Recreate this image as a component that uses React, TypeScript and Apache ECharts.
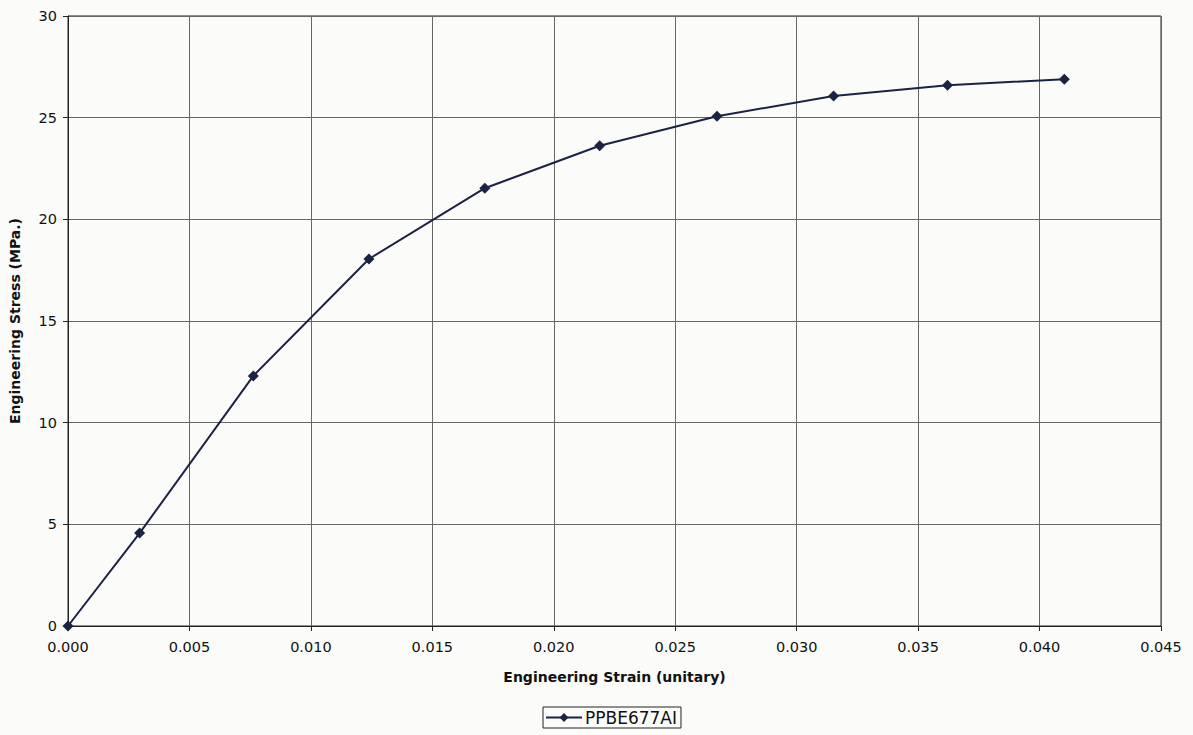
import React, { useEffect, useRef } from "react";
import * as echarts from "echarts";

const seriesName = "PPBE677AI";
const strain = [0, 0.00295, 0.00763, 0.01239, 0.01716, 0.02189, 0.02672, 0.03152, 0.03621, 0.04102];
const stress = [0, 4.57, 12.3, 18.05, 21.53, 23.62, 25.07, 26.07, 26.6, 26.89];
const xTitle = "Engineering Strain (unitary)";
const yTitle = "Engineering Stress (MPa.)";

export default function App() {
  const ref = useRef<HTMLDivElement>(null);
  useEffect(() => {
    document.body.style.margin = "0";
    const chart = echarts.init(ref.current!, null, { renderer: "svg" });
    const font = "DejaVu Sans, Liberation Sans, sans-serif";
    chart.setOption({
      animation: false,
      backgroundColor: "#fbfbf9",
      textStyle: { fontFamily: font },
      grid: { left: 64, right: 32, top: 16, bottom: 109, show: true, borderColor: "#222", borderWidth: 1 },
      xAxis: {
        type: "value",
        min: 0,
        max: 0.045,
        interval: 0.005,
        name: xTitle,
        nameLocation: "middle",
        nameGap: 44,
        nameTextStyle: { fontFamily: font, fontSize: 14, fontWeight: "bold", color: "#111" },
        axisLine: { show: true, lineStyle: { color: "#222", width: 1 } },
        axisTick: { show: true, length: 5, lineStyle: { color: "#222" } },
        axisLabel: { fontFamily: font, fontSize: 14.5, color: "#111", margin: 13, formatter: (v: number) => v.toFixed(3) },
        splitLine: { show: true, lineStyle: { color: "#666", width: 1 } },
      },
      yAxis: {
        type: "value",
        min: 0,
        max: 30,
        interval: 5,
        name: yTitle,
        nameLocation: "middle",
        nameGap: 46,
        nameTextStyle: { fontFamily: font, fontSize: 14, fontWeight: "bold", color: "#111" },
        axisLine: { show: true, lineStyle: { color: "#222", width: 1 } },
        axisTick: { show: true, length: 5, lineStyle: { color: "#222" } },
        axisLabel: { fontFamily: font, fontSize: 14.5, color: "#111", margin: 11 },
        splitLine: { show: true, lineStyle: { color: "#666", width: 1 } },
      },
      legend: {
        left: 543,
        top: 707,
        data: [seriesName],
        borderColor: "#222",
        borderWidth: 1,
        padding: [2, 4, 2, 2],
        itemWidth: 36,
        itemHeight: 11,
        itemGap: 4,
        textStyle: { fontFamily: font, fontSize: 17, color: "#111", padding: [0, 0, 0, -2] },
      },
      series: [
        {
          name: seriesName,
          type: "line",
          data: strain.map((x, i) => [x, stress[i]]),
          symbol: "diamond",
          symbolSize: 11,
          lineStyle: { color: "#1c2244", width: 2 },
          itemStyle: { color: "#1c2244" },
        },
      ],
    });
    return () => chart.dispose();
  }, []);
  return <div ref={ref} style={{ position: "fixed", left: 0, top: 0, width: 1193, height: 735 }} />;
}
